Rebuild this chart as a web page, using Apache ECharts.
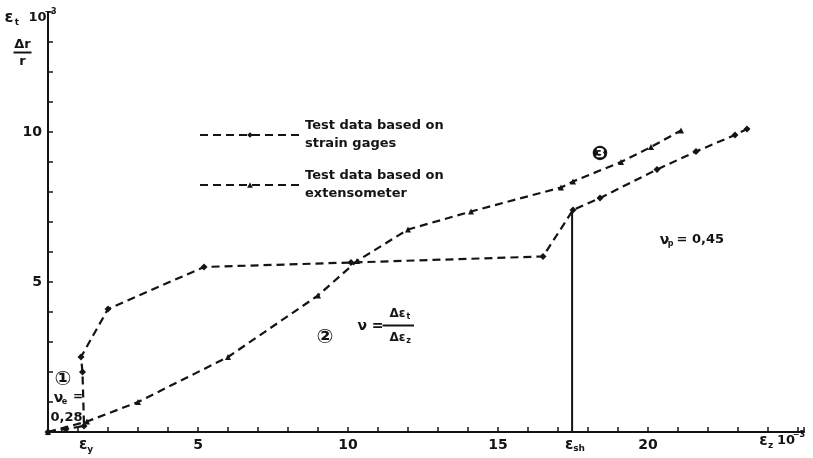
<!DOCTYPE html>
<html>
<head>
<meta charset="utf-8">
<script src="https://cdn.jsdelivr.net/npm/echarts@6/dist/echarts.min.js"></script>
<style>
  html, body { margin: 0; padding: 0; background: #fff; }
  #main { width: 813px; height: 458px; }
</style>
</head>
<body>
<div id="main"></div>
<script>
  // strain gages (curve with plateau, jumps at eps_y and eps_sh)
  const gageEpsZ = [0, 0.6, 1.2, 1.15, 1.1, 2.0, 5.2, 10.1, 16.5, 17.5, 18.4, 20.3, 21.6, 22.9, 23.3];
  const gageEpsT = [0, 0.1, 0.2, 2.0, 2.5, 4.1, 5.5, 5.65, 5.85, 7.4, 7.8, 8.75, 9.35, 9.9, 10.1];
  // extensometer
  const extEpsZ = [0, 1.3, 3.0, 6.0, 9.0, 10.3, 12.0, 14.1, 17.1, 17.5, 19.1, 20.1, 21.1];
  const extEpsT = [0, 0.35, 1.0, 2.5, 4.55, 5.7, 6.75, 7.35, 8.15, 8.35, 9.0, 9.5, 10.05];
  // yield and strain hardening start
  const epsY = 1.17;
  const epsSh = 17.47;
  const epsShT = 7.4;
  const xLabels = [5, 10, 15, 20];
  const yLabels = [5, 10];

  const ink = '#141414';
  const font = '"DejaVu Sans", sans-serif';
  const zip = (a, b) => a.map((v, i) => [v, b[i]]);

  const chart = echarts.init(document.getElementById('main'));
  const option = {
    backgroundColor: '#fff',
    animation: false,
    grid: { left: 48, right: 9, top: 12, bottom: 26 },
    legend: {
      orient: 'vertical',
      left: 194,
      top: 112,
      itemWidth: 100,
      itemHeight: 7,
      itemGap: 14,
      formatter: (n) => n === 'gage' ? 'Test data based on\nstrain gages' : 'Test data based on\nextensometer',
      textStyle: { color: ink, fontFamily: font, fontWeight: 'bold', fontSize: 13, lineHeight: 18 },
      data: ['gage', 'ext']
    },
    xAxis: {
      type: 'value', min: 0, max: 25.2, interval: 1,
      axisLine: { lineStyle: { color: ink, width: 2 } },
      axisTick: { inside: true, length: 5, lineStyle: { color: ink, width: 1.5 } },
      splitLine: { show: false },
      axisLabel: {
        color: ink, fontFamily: font, fontWeight: 'bold', fontSize: 14, margin: 6,
        formatter: (v) => xLabels.includes(v) ? String(v) : ''
      }
    },
    yAxis: {
      type: 'value', min: 0, max: 14, interval: 1,
      axisLine: { lineStyle: { color: ink, width: 2 } },
      axisTick: { inside: true, length: 5, lineStyle: { color: ink, width: 1.5 } },
      splitLine: { show: false },
      axisLabel: {
        color: ink, fontFamily: font, fontWeight: 'bold', fontSize: 14, margin: 6,
        formatter: (v) => yLabels.includes(v) ? String(v) : ''
      }
    },
    series: [
      {
        name: 'gage', type: 'line', data: zip(gageEpsZ, gageEpsT),
        symbol: 'diamond', symbolSize: 7,
        lineStyle: { color: ink, width: 2.2, type: [8, 5] },
        itemStyle: { color: ink }
      },
      {
        name: 'ext', type: 'line', data: zip(extEpsZ, extEpsT),
        symbol: 'triangle', symbolSize: 6,
        lineStyle: { color: ink, width: 2.2, type: [8, 5] },
        itemStyle: { color: ink }
      },
      {
        name: 'sh', type: 'line', data: [[epsSh, 0], [epsSh, epsShT]],
        symbol: 'none', silent: true,
        lineStyle: { color: ink, width: 2, type: 'solid' }
      }
    ]
  };
  chart.setOption(option);

  // annotations, placed via the chart's own scales
  const g = [];
  const px = (x, y) => chart.convertToPixel({ gridIndex: 0 }, [x, y]);
  function text(x, y, t, size, dx = 0, dy = 0, align = 'center') {
    const p = px(x, y);
    g.push({
      type: 'text', x: p[0] + dx, y: p[1] + dy, silent: true,
      style: { text: t, fill: ink, font: `bold ${size}px ${font}`, align: align, verticalAlign: 'middle' }
    });
  }
  function bar(x, y, x2) {
    const a = px(x, y), b = px(x2, y);
    g.push({ type: 'line', silent: true, shape: { x1: a[0], y1: a[1], x2: b[0], y2: b[1] }, style: { stroke: ink, lineWidth: 2 } });
  }

  // y-axis title  eps_t 10^-3  and  Δr / r
  text(-1.3, 13.8, 'ε', 16);
  text(-1.3, 13.8, 't', 9, 8, 5);
  text(-0.35, 13.8, '10', 13);
  text(-0.35, 13.8, '−3', 8, 13, -6);
  text(-0.85, 12.9, 'Δr', 13);
  bar(-1.15, 12.65, -0.55);
  text(-0.85, 12.35, 'r', 13);

  // x-axis special labels
  text(epsY, 0, 'ε', 15, 0, 13);
  text(epsY, 0, 'y', 9, 7, 18);
  text(epsSh, 0, 'ε', 15, -3, 13);
  text(epsSh, 0, 'sh', 9, 7, 17);
  text(23.85, 0, 'ε', 15, 0, 9);
  text(23.85, 0, 'z', 9, 7, 14);
  text(24.6, 0, '10', 13, 0, 9);
  text(24.6, 0, '−3', 8, 13, 3);

  // region 1
  text(0.5, 1.75, '①', 20);
  text(0.35, 1.12, 'ν', 14);
  text(0.35, 1.12, 'e', 8, 6, 4);
  text(1.0, 1.17, '=', 12);
  text(0.62, 0.47, '0,28', 13);

  // region 2
  text(9.23, 3.13, '②', 20);
  text(10.75, 3.53, 'ν =', 14);
  text(11.65, 3.93, 'Δε', 12);
  text(11.65, 3.93, 't', 8, 11, 3);
  bar(11.15, 3.55, 12.2);
  text(11.65, 3.15, 'Δε', 12);
  text(11.65, 3.15, 'z', 8, 11, 3);

  // region 3
  text(18.4, 9.23, '❸', 20);
  text(20.55, 6.4, 'ν', 14);
  text(20.55, 6.4, 'p', 8, 6, 4);
  text(20.95, 6.4, '= 0,45', 13, 0, 0, 'left');

  chart.setOption({ graphic: g });
</script>
</body>
</html>
